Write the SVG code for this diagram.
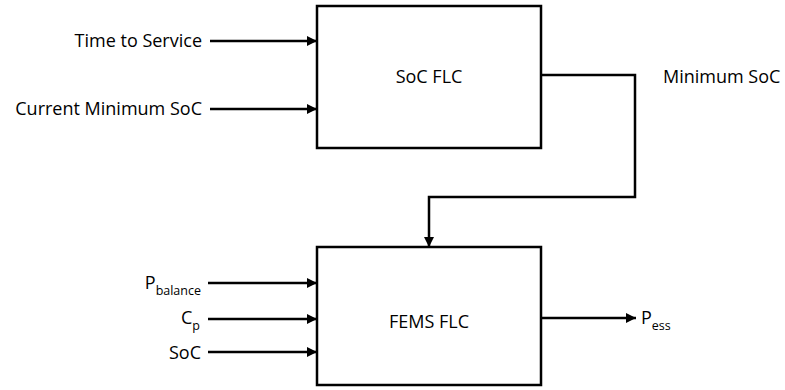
<svg xmlns="http://www.w3.org/2000/svg" width="785" height="390" viewBox="0 0 785 390">
<style>
text{font-family:"Open Sans","Liberation Sans",sans-serif;font-size:18px;fill:#000}
.box{fill:#fff;stroke:#000;stroke-width:2.5}
.ln{fill:none;stroke:#000;stroke-width:2.5}
.sub{font-size:12.5px}
</style>
<defs>
<marker id="ah" markerWidth="10" markerHeight="10" refX="10" refY="5" orient="auto" markerUnits="userSpaceOnUse">
<path d="M0,0 L10,5 L0,10 Z" fill="#000"/>
</marker>
</defs>
<g id="soc-flc">
<rect class="box" x="317" y="6" width="224" height="142"/>
<text x="429" y="83" text-anchor="middle">SoC FLC</text>
</g>
<g id="fems-flc">
<rect class="box" x="317" y="247" width="224" height="138"/>
<text x="429" y="328" text-anchor="middle">FEMS FLC</text>
</g>
<g id="labels">
<text x="202" y="47" text-anchor="end">Time to Service</text>
<text x="202" y="115" text-anchor="end">Current Minimum SoC</text>
<text x="663" y="83">Minimum SoC</text>
<text x="201" y="289" text-anchor="end">P<tspan class="sub" dy="6">balance</tspan></text>
<text x="200" y="324" text-anchor="end">C<tspan class="sub" dy="6">p</tspan></text>
<text x="201" y="359" text-anchor="end">SoC</text>
<text x="641" y="324">P<tspan class="sub" dy="6">ess</tspan></text>
</g>
<g id="connectors">
<line class="ln" x1="210" y1="41" x2="317" y2="41" marker-end="url(#ah)"/>
<line class="ln" x1="210" y1="109" x2="317" y2="109" marker-end="url(#ah)"/>
<polyline class="ln" points="541,75 635,75 635,197 429,197 429,247" marker-end="url(#ah)"/>
<line class="ln" x1="208" y1="283" x2="317" y2="283" marker-end="url(#ah)"/>
<line class="ln" x1="208" y1="319" x2="317" y2="319" marker-end="url(#ah)"/>
<line class="ln" x1="208" y1="352" x2="317" y2="352" marker-end="url(#ah)"/>
<line class="ln" x1="541" y1="318" x2="636" y2="318" marker-end="url(#ah)"/>
</g>
</svg>
